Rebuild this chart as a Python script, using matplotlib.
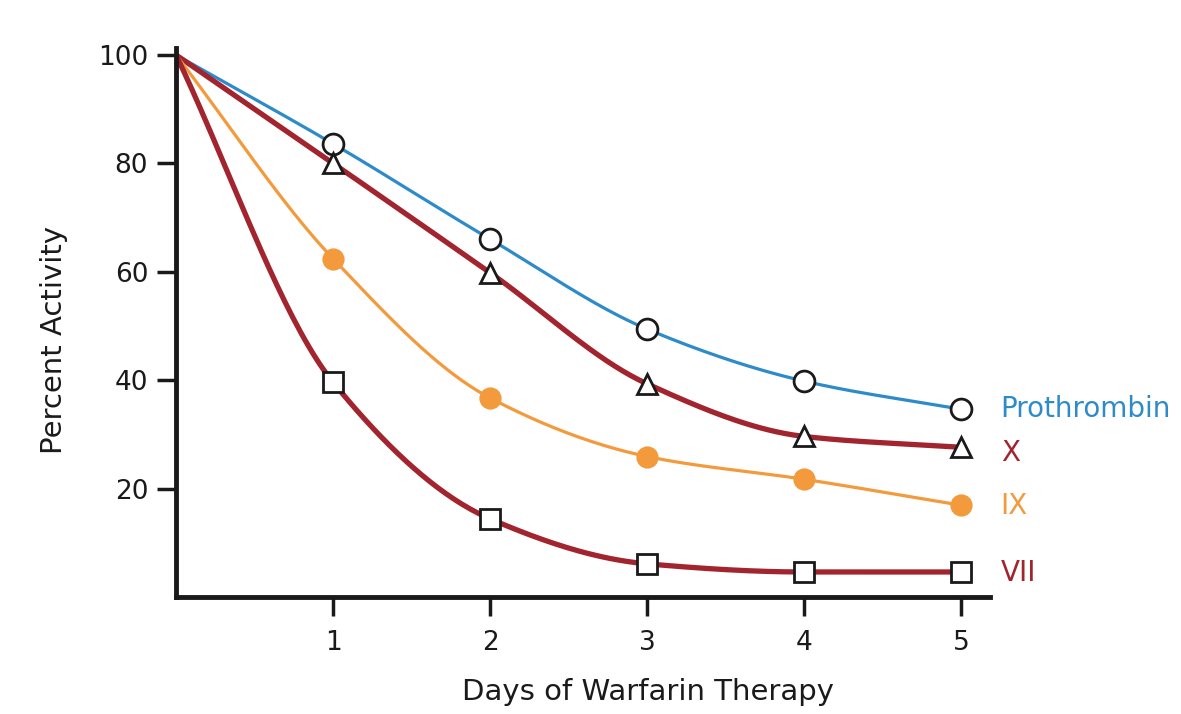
import numpy as np
import matplotlib.pyplot as plt

plt.rcParams['font.family'] = ['DejaVu Sans']

days = [0, 1, 2, 3, 4, 5]
prothrombin = [100, 83.6, 66.0, 49.4, 39.8, 34.6]
factor_x = [100, 80.0, 59.8, 39.3, 29.6, 27.6]
factor_ix = [100, 62.4, 36.7, 25.9, 21.7, 16.9]
factor_vii = [100, 39.6, 14.4, 6.1, 4.6, 4.6]

x_ticks = [1, 2, 3, 4, 5]
y_ticks = [20, 40, 60, 80, 100]


def smooth(x, y, n=40):
    # monotone cubic (pchip-like) curve through the points, for drawing only
    x = np.asarray(x, float)
    y = np.asarray(y, float)
    h = np.diff(x)
    d = np.diff(y) / h
    m = np.zeros_like(y)
    m[0], m[-1] = d[0], d[-1]
    for i in range(1, len(y) - 1):
        if d[i - 1] * d[i] > 0:
            w1 = 2 * h[i] + h[i - 1]
            w2 = h[i] + 2 * h[i - 1]
            m[i] = (w1 + w2) / (w1 / d[i - 1] + w2 / d[i])
    xs, ys = [], []
    for i in range(len(x) - 1):
        t = np.linspace(0, 1, n)
        h00 = 2 * t**3 - 3 * t**2 + 1
        h10 = t**3 - 2 * t**2 + t
        h01 = -2 * t**3 + 3 * t**2
        h11 = t**3 - t**2
        xs.append(x[i] + t * h[i])
        ys.append(h00 * y[i] + h10 * h[i] * m[i] + h01 * y[i + 1] + h11 * h[i] * m[i + 1])
    return np.concatenate(xs), np.concatenate(ys)


blue = '#2e8bc9'
red = '#a1242e'
orange = '#f29a3c'
ink = '#1a1a1a'

fig = plt.figure(figsize=(11.81, 7.14), dpi=100)
ax = fig.add_axes([0.149, 0.164, 0.689, 0.769])

series = [
    ('Prothrombin', prothrombin, blue, 2.3, 'o', 'white', 15),
    ('X', factor_x, red, 3.8, '^', 'white', 14),
    ('IX', factor_ix, orange, 2.3, 'o', orange, 14),
    ('VII', factor_vii, red, 3.8, 's', 'white', 14),
]

for name, vals, col, lw, mk, fc, ms in series:
    sx, sy = smooth(days, vals)
    ax.plot(sx, sy, color=col, lw=lw, solid_capstyle='round', zorder=2)
    edge = orange if fc == orange else ink
    ax.plot(days[1:], vals[1:], ls='none', marker=mk, ms=ms, mfc=fc, mec=edge,
            mew=2.0, zorder=3)

label_y = {'Prothrombin': 34.7, 'X': 26.6, 'IX': 16.8, 'VII': 4.4}
for name, vals, col, lw, mk, fc, ms in series:
    ax.text(5.25, label_y[name], name, color=col, fontsize=20, va='center', ha='left',
            clip_on=False)

ax.set_xlim(0, 5.18)
ax.set_ylim(0, 101.3)
ax.set_xticks(x_ticks)
ax.set_yticks(y_ticks)
ax.tick_params(axis='both', labelsize=19, length=14, width=2.5, colors=ink,
               direction='out')
ax.tick_params(axis='x', pad=10)
ax.tick_params(axis='y', pad=6)
for s in ['top', 'right']:
    ax.spines[s].set_visible(False)
for s in ['left', 'bottom']:
    ax.spines[s].set_linewidth(3.5)
    ax.spines[s].set_color(ink)

ax.set_xlabel('Days of Warfarin Therapy', fontsize=21, color=ink)
ax.set_ylabel('Percent Activity', fontsize=21, color=ink)
ax.xaxis.set_label_coords(0.58, -0.148)
ax.yaxis.set_label_coords(-0.133, 0.468)

fig.savefig('out.png', dpi=100, facecolor='white')
